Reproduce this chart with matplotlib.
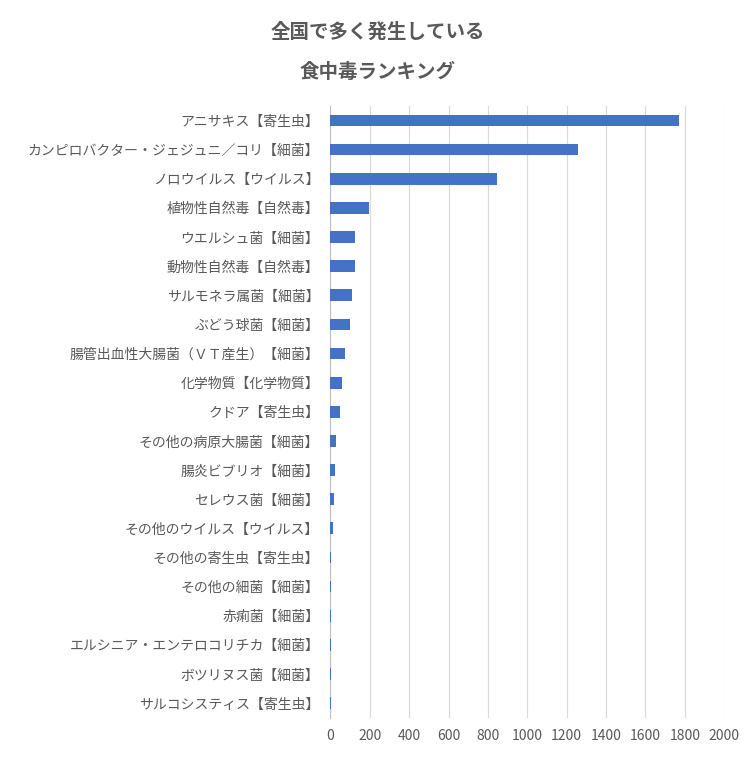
import matplotlib.pyplot as plt

plt.rcParams["font.family"] = "Noto Sans CJK JP"

labels = [
    "アニサキス【寄生虫】",
    "カンピロバクター・ジェジュニ／コリ【細菌】",
    "ノロウイルス【ウイルス】",
    "植物性自然毒【自然毒】",
    "ウエルシュ菌【細菌】",
    "動物性自然毒【自然毒】",
    "サルモネラ属菌【細菌】",
    "ぶどう球菌【細菌】",
    "腸管出血性大腸菌（ＶＴ産生）【細菌】",
    "化学物質【化学物質】",
    "クドア【寄生虫】",
    "その他の病原大腸菌【細菌】",
    "腸炎ビブリオ【細菌】",
    "セレウス菌【細菌】",
    "その他のウイルス【ウイルス】",
    "その他の寄生虫【寄生虫】",
    "その他の細菌【細菌】",
    "赤痢菌【細菌】",
    "エルシニア・エンテロコリチカ【細菌】",
    "ボツリヌス菌【細菌】",
    "サルコシスティス【寄生虫】",
]
values = [1772, 1259, 848, 198, 127, 127, 112, 102, 76, 61, 51, 30, 25, 20, 15,
          5, 5, 4, 4, 3, 3]
xticks = list(range(0, 2001, 200))

grey = "#595959"
fig = plt.figure(figsize=(7.56, 7.57), dpi=100)
ax = fig.add_axes([0.437, 0.052, 0.521, 0.808])
y = list(range(len(labels)))
ax.barh(y, values, height=0.4, color="#4472C4", zorder=3)
ax.set_ylim(len(labels) - 0.5, -0.5)
ax.set_yticks(y)
ax.set_yticklabels(labels, fontsize=10, color=grey)
ax.set_xlim(0, 2000)
ax.set_xticks(xticks)
ax.set_xticklabels([str(t) for t in xticks], fontsize=10, color=grey)
ax.grid(axis="x", color="#d9d9d9", linewidth=0.8, zorder=0)
for s in ["top", "right", "bottom"]:
    ax.spines[s].set_visible(False)
ax.spines["left"].set_color("#bfbfbf")
ax.tick_params(length=0, pad=8)

fig.text(0.5, 0.957, "全国で多く発生している", ha="center", va="center",
         fontsize=14, fontweight="bold", color=grey)
fig.text(0.5, 0.904, "食中毒ランキング", ha="center", va="center",
         fontsize=14, fontweight="bold", color=grey)

fig.savefig("out.png", dpi=100)
